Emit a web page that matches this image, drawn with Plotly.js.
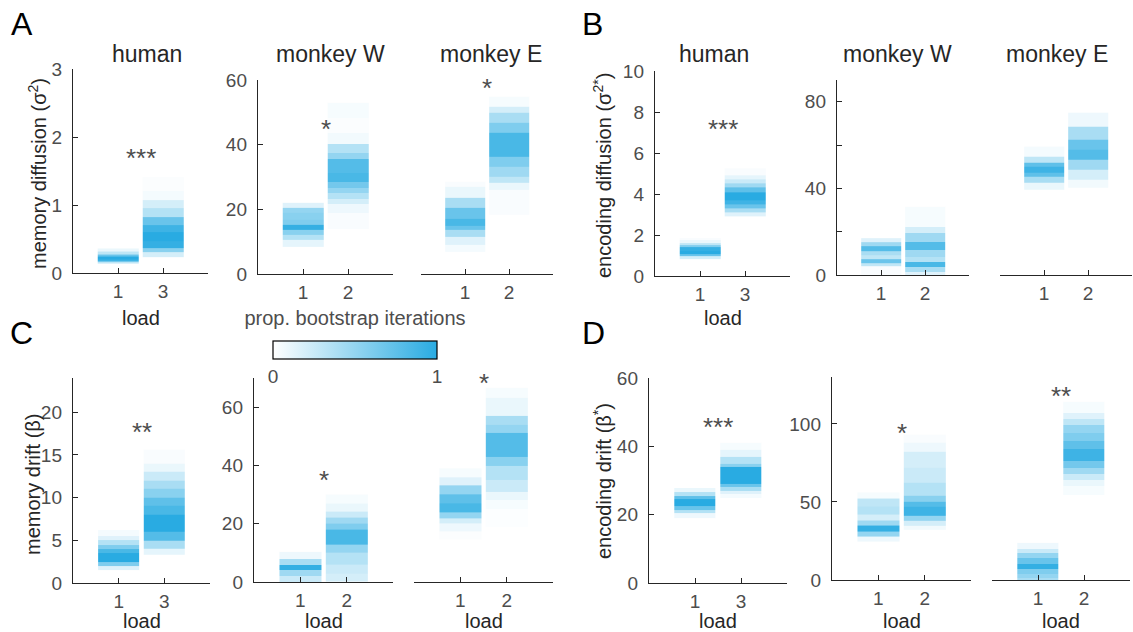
<!DOCTYPE html>
<html>
<head>
<meta charset="utf-8">
<script src="https://cdn.plot.ly/plotly-3.0.1.min.js"></script>
<style>
  html, body { margin: 0; padding: 0; background: #ffffff; }
  #chart { width: 1133px; height: 632px; }
</style>
</head>
<body>
<div id="chart"></div>
<script>
// Bootstrap distributions: each column is a stack of bins (edges, ascending)
// with the proportion of bootstrap iterations falling in each bin.

// A: memory diffusion (sigma^2)
const memDiffHumanL1Edges = [0.14, 0.17, 0.20, 0.24, 0.27, 0.31, 0.36];
const memDiffHumanL1Prop  = [0.3, 0.9, 1.0, 0.7, 0.3, 0.1];
const memDiffHumanL3Edges = [0.24, 0.30, 0.36, 0.47, 0.60, 0.70, 0.82, 0.95, 1.07, 1.20, 1.41];
const memDiffHumanL3Prop  = [0.2, 0.55, 0.95, 1.0, 0.9, 0.7, 0.35, 0.2, 0.05, 0.02];
const memDiffWL1Edges = [8.4, 10.5, 12.1, 13.6, 15.2, 16.7, 18.8, 20.4, 22];
const memDiffWL1Prop  = [0.12, 0.35, 0.55, 0.95, 0.6, 0.55, 0.5, 0.15];
const memDiffWL2Edges = [13.9, 18.8, 21.6, 23.2, 25, 26.6, 28.5, 31.2, 35.6, 37.4, 40.2, 43.6, 48.2, 52.9];
const memDiffWL2Prop  = [0.03, 0.08, 0.2, 0.35, 0.5, 0.65, 0.85, 0.8, 0.5, 0.35, 0.06, 0.02, 0.04];
const memDiffEL1Edges = [6.8, 9, 11.4, 13.6, 15, 17, 20.4, 23.5, 27, 28.5];
const memDiffEL1Prop  = [0.05, 0.15, 0.4, 0.7, 0.85, 0.7, 0.4, 0.1, 0.03];
const memDiffEL2Edges = [18.2, 26, 28.1, 30, 33.1, 36.2, 43.6, 46.7, 49.8, 51.7, 54.8];
const memDiffEL2Prop  = [0.03, 0.1, 0.3, 0.45, 0.6, 0.85, 0.6, 0.4, 0.2, 0.04];

// B: encoding diffusion (sigma^2*)
const encDiffHumanL1Edges = [0.85, 0.95, 1.05, 1.2, 1.4, 1.5, 1.6, 1.75, 1.85];
const encDiffHumanL1Prop  = [0.2, 0.7, 1.0, 0.95, 0.6, 0.3, 0.1, 0.03];
const encDiffHumanL3Edges = [2.9, 3.1, 3.3, 3.5, 3.7, 4.1, 4.3, 4.5, 4.7, 4.9, 5.25];
const encDiffHumanL3Prop  = [0.15, 0.4, 0.7, 0.9, 1.0, 0.75, 0.45, 0.25, 0.12, 0.03];
const encDiffWL1Edges = [0, 4, 5.5, 7.5, 9, 11, 13.5, 15, 17];
const encDiffWL1Prop  = [0.03, 0.3, 0.7, 0.3, 0.4, 0.8, 0.45, 0.15];
const encDiffWL2Edges = [0, 1.4, 3.7, 6, 8.3, 11.6, 15.3, 19.4, 22.2, 31.4];
const encDiffWL2Prop  = [0.15, 0.4, 0.85, 0.35, 0.45, 0.8, 0.45, 0.2, 0.04];
const encDiffEL1Edges = [39.3, 42.5, 45.3, 47, 50, 51.8, 54.6, 59.2];
const encDiffEL1Prop  = [0.1, 0.4, 0.75, 0.9, 0.75, 0.3, 0.05];
const encDiffEL2Edges = [40.2, 43.9, 48.6, 53.2, 58, 62.4, 68.4, 74.9];
const encDiffEL2Prop  = [0.06, 0.2, 0.45, 0.8, 0.7, 0.4, 0.08];

// C: memory drift (beta)
const memDriftHumanL1Edges = [1.5, 2.0, 2.5, 3.5, 4.0, 4.5, 5.0, 5.5, 6.2];
const memDriftHumanL1Prop  = [0.15, 0.6, 1.0, 0.85, 0.6, 0.35, 0.15, 0.05];
const memDriftHumanL3Edges = [3.3, 4, 5, 6, 8, 9, 10, 11, 12, 13, 14, 15.6];
const memDriftHumanL3Prop  = [0.12, 0.4, 0.8, 1.0, 0.85, 0.75, 0.55, 0.4, 0.25, 0.1, 0.03];
const memDriftWL1Edges = [0, 2, 4, 6, 8, 10.3];
const memDriftWL1Prop  = [0.25, 0.45, 0.95, 0.4, 0.08];
const memDriftWL2Edges = [0, 3, 6, 10, 13, 18, 20, 22, 24, 27, 30];
const memDriftWL2Prop  = [0.2, 0.25, 0.35, 0.5, 0.85, 0.6, 0.45, 0.25, 0.1, 0.04];
const memDriftEL1Edges = [14.5, 17.5, 20, 22, 24, 27, 30, 33, 36, 39];
const memDriftEL1Prop  = [0.02, 0.08, 0.2, 0.5, 0.85, 0.75, 0.5, 0.15, 0.04];
const memDriftEL2Edges = [19, 25, 28, 31, 35, 40, 43, 51, 54, 57, 63, 66.6];
const memDriftEL2Prop  = [0.015, 0.04, 0.1, 0.25, 0.35, 0.55, 0.8, 0.5, 0.4, 0.1, 0.04];

// D: encoding drift (beta*)
const encDriftHumanL1Edges = [19, 20.5, 21.5, 22.5, 24.5, 25.5, 26.5, 27.8];
const encDriftHumanL1Prop  = [0.08, 0.35, 0.7, 1.0, 0.75, 0.35, 0.1];
const encDriftHumanL3Edges = [25, 26, 27, 28, 29, 34, 35, 37, 39, 41];
const encDriftHumanL3Prop  = [0.05, 0.15, 0.4, 0.7, 1.0, 0.55, 0.35, 0.12, 0.04];
const encDriftWL1Edges = [24.5, 28, 31, 35, 38, 42, 47, 52, 56];
const encDriftWL1Prop  = [0.08, 0.5, 0.95, 0.45, 0.2, 0.35, 0.3, 0.04];
const encDriftWL2Edges = [32, 35, 38, 41, 47, 50, 54, 62, 72, 82, 88, 93];
const encDriftWL2Prop  = [0.06, 0.2, 0.5, 0.9, 0.8, 0.55, 0.35, 0.25, 0.2, 0.08, 0.03];
const encDriftEL1Edges = [0, 1.5, 4, 7, 10, 14, 17, 20, 23.7];
const encDriftEL1Prop  = [0.4, 0.5, 0.6, 0.95, 0.7, 0.5, 0.25, 0.08];
const encDriftEL2Edges = [54.5, 60, 64, 68, 72, 76, 84, 89, 94, 99, 103, 107, 114];
const encDriftEL2Prop  = [0.04, 0.1, 0.25, 0.45, 0.65, 0.9, 0.75, 0.6, 0.5, 0.3, 0.15, 0.04];

// Tick labels and text
const humanLoads  = ['1', '3'];
const monkeyLoads = ['1', '2'];
const subjects = ['human', 'monkey W', 'monkey E'];
const sigLabels = { A: ['***', '*', '*'], B: ['***', '', ''], C: ['**', '*', '*'], D: ['***', '*', '**'] };
const sigHeights = { A: [1.76, 46.4, 59], B: [7.4, null, null], C: [18.3, 36.7, 70], D: [47.1, 97.3, 121] };

// ---------------------------------------------------------------------------
const W = 1133, H = 632;
const BLUE = '#29abe2';
const scale = [[0, '#ffffff'], [1, BLUE]];
const TICK = '#4d4d4d', LINE = '#262626';
const FONT = 'Liberation Sans, Arial, Helvetica, sans-serif';

// axes boxes in pixels: [left, right, top, bottom]; dt = labelled tick step, mt = minor tick step
const panels = [
  { id: 'A', s: 0, box: [73, 208, 69, 273],  yr: [0, 3],   dt: 1,  mt: 0,  l1: [memDiffHumanL1Edges, memDiffHumanL1Prop], l2: [memDiffHumanL3Edges, memDiffHumanL3Prop] },
  { id: 'A', s: 1, box: [258, 393, 80, 274], yr: [0, 60],  dt: 20, mt: 0,  l1: [memDiffWL1Edges, memDiffWL1Prop], l2: [memDiffWL2Edges, memDiffWL2Prop] },
  { id: 'A', s: 2, box: [421, 553, 80, 274], yr: [0, 60],  dt: 0,  mt: 0,  l1: [memDiffEL1Edges, memDiffEL1Prop], l2: [memDiffEL2Edges, memDiffEL2Prop] },
  { id: 'B', s: 0, box: [655, 790, 71, 276], yr: [0, 10],  dt: 2,  mt: 0,  l1: [encDiffHumanL1Edges, encDiffHumanL1Prop], l2: [encDiffHumanL3Edges, encDiffHumanL3Prop] },
  { id: 'B', s: 1, box: [837, 969, 80, 275], yr: [0, 90],  dt: 40, mt: 20, l1: [encDiffWL1Edges, encDiffWL1Prop], l2: [encDiffWL2Edges, encDiffWL2Prop] },
  { id: 'B', s: 2, box: [1000, 1132, 80, 275], yr: [0, 90], dt: 0, mt: 0,  l1: [encDiffEL1Edges, encDiffEL1Prop], l2: [encDiffEL2Edges, encDiffEL2Prop] },
  { id: 'C', s: 0, box: [73, 210, 378, 583], yr: [0, 24],  dt: 5,  mt: 0,  l1: [memDriftHumanL1Edges, memDriftHumanL1Prop], l2: [memDriftHumanL3Edges, memDriftHumanL3Prop] },
  { id: 'C', s: 1, box: [254, 393, 378, 582], yr: [0, 70], dt: 20, mt: 0,  l1: [memDriftWL1Edges, memDriftWL1Prop], l2: [memDriftWL2Edges, memDriftWL2Prop] },
  { id: 'C', s: 2, box: [414, 553, 378, 582], yr: [0, 70], dt: 0,  mt: 0,  l1: [memDriftEL1Edges, memDriftEL1Prop], l2: [memDriftEL2Edges, memDriftEL2Prop] },
  { id: 'D', s: 0, box: [649, 787, 378, 583], yr: [0, 60], dt: 20, mt: 0,  l1: [encDriftHumanL1Edges, encDriftHumanL1Prop], l2: [encDriftHumanL3Edges, encDriftHumanL3Prop] },
  { id: 'D', s: 1, box: [832, 971, 377, 580], yr: [0, 130], dt: 50, mt: 0, l1: [encDriftWL1Edges, encDriftWL1Prop], l2: [encDriftWL2Edges, encDriftWL2Prop] },
  { id: 'D', s: 2, box: [992, 1130, 377, 580], yr: [0, 130], dt: 0, mt: 0, l1: [encDriftEL1Edges, encDriftEL1Prop], l2: [encDriftEL2Edges, encDriftEL2Prop] }
];

const traces = [];
const layout = {
  width: W, height: H,
  margin: { l: 0, r: 0, t: 0, b: 0 },
  paper_bgcolor: '#ffffff', plot_bgcolor: 'rgba(0,0,0,0)',
  showlegend: false,
  font: { family: FONT, color: TICK },
  annotations: []
};

function column(xc, edges, prop, xa, ya) {
  return {
    type: 'heatmap',
    x: [xc - 0.45, xc + 0.45],
    y: edges,
    z: prop.map(p => [p]),
    zmin: 0, zmax: 1,
    colorscale: scale,
    showscale: false,
    hoverinfo: 'skip',
    xaxis: xa, yaxis: ya
  };
}

panels.forEach((p, i) => {
  const n = i + 1;
  const xa = 'x' + (n === 1 ? '' : n), ya = 'y' + (n === 1 ? '' : n);
  const xk = 'xaxis' + (n === 1 ? '' : n), yk = 'yaxis' + (n === 1 ? '' : n);
  const [l, r, t, b] = p.box;

  traces.push(column(1, p.l1[0], p.l1[1], xa, ya));
  traces.push(column(2, p.l2[0], p.l2[1], xa, ya));

  layout[xk] = {
    domain: [l / W, r / W], anchor: ya, range: [0, 3],
    tickmode: 'array', tickvals: [1, 2], ticktext: p.s === 0 ? humanLoads : monkeyLoads,
    ticks: 'inside', ticklen: 5, tickwidth: 1, tickcolor: LINE,
    showline: true, linecolor: LINE, linewidth: 1.2,
    showgrid: false, zeroline: false, fixedrange: true,
    tickfont: { size: 19, color: TICK, family: FONT }, ticklabelstandoff: 1
  };
  if (p.dt) {
    layout[yk] = {
      domain: [1 - b / H, 1 - t / H], anchor: xa, range: p.yr,
      tickmode: 'linear', tick0: 0, dtick: p.dt,
      ticks: 'inside', ticklen: 5, tickwidth: 1, tickcolor: LINE,
      showline: true, linecolor: LINE, linewidth: 1.2,
      showgrid: false, zeroline: false, fixedrange: true,
      tickfont: { size: 19, color: TICK, family: FONT }, ticklabelstandoff: 6
    };
    if (p.mt) {
      layout[yk].minor = { tickmode: 'linear', tick0: 0, dtick: p.mt, ticks: 'inside', ticklen: 5, tickwidth: 1, tickcolor: LINE, showgrid: false };
    }
  } else {
    layout[yk] = { domain: [1 - b / H, 1 - t / H], anchor: xa, range: p.yr, visible: false, fixedrange: true };
  }

  // significance stars between the two loads
  const star = sigLabels[p.id][p.s];
  if (star) {
    layout.annotations.push({
      xref: xa, yref: ya, x: 1.5, y: sigHeights[p.id][p.s],
      text: star, showarrow: false, yanchor: 'middle', yshift: -5,
      font: { size: 26, color: '#4d4d4d', family: FONT }
    });
  }

  // x-axis title: every panel of the lower row, human panels of the upper row
  const lower = t > 300;
  if (lower || p.s === 0) {
    layout.annotations.push({
      xref: 'paper', yref: 'paper', x: ((l + r) / 2) / W, y: 1 - (lower ? 621 : 318) / H,
      text: 'load', showarrow: false, xanchor: 'center', yanchor: 'middle',
      font: { size: 20, color: LINE, family: FONT }
    });
  }
});

// Subject titles over the upper row
const titleCenters = [147, 330, 491, 714, 897, 1057];
titleCenters.forEach((cx, k) => {
  layout.annotations.push({
    xref: 'paper', yref: 'paper', x: cx / W, y: 1 - 54 / H,
    text: subjects[k % 3], showarrow: false, xanchor: 'center', yanchor: 'middle',
    font: { size: 23, color: LINE, family: FONT }
  });
});

// Panel letters
[['A', 22, 24], ['B', 592, 24], ['C', 22, 333], ['D', 593, 333]].forEach(([t, x, y]) => {
  layout.annotations.push({
    xref: 'paper', yref: 'paper', x: x / W, y: 1 - y / H,
    text: t, showarrow: false, xanchor: 'center', yanchor: 'middle',
    font: { size: 32, color: '#000000', family: FONT }
  });
});

// Y-axis titles
[['memory diffusion (σ<sup>2</sup>)', 37, 174],
 ['encoding diffusion (σ<sup>2*</sup>)', 603, 176],
 ['memory drift (β)', 33, 484],
 ['encoding drift (β<sup>*</sup>)', 603, 481]].forEach(([t, x, y]) => {
  layout.annotations.push({
    xref: 'paper', yref: 'paper', x: x / W, y: 1 - y / H,
    text: t, showarrow: false, textangle: -90, xanchor: 'center', yanchor: 'middle',
    font: { size: 20, color: LINE, family: FONT }
  });
});

// Shared colour bar
traces[0].showscale = true;
traces[0].colorbar = {
  orientation: 'h',
  x: 355 / W, xanchor: 'center',
  y: 1 - 319 / H, yanchor: 'top',
  len: 164, lenmode: 'pixels',
  thickness: 18, thicknessmode: 'pixels',
  xpad: 0, ypad: 0,
  outlinewidth: 1.2, outlinecolor: '#000000',
  tickmode: 'array', tickvals: [0, 1], ticktext: ['0', '1'], ticks: '',
  tickfont: { size: 19, color: TICK, family: FONT },
  title: { text: 'prop. bootstrap iterations', side: 'top', font: { size: 20, color: TICK, family: FONT } }
};

Plotly.newPlot('chart', traces, layout, { displayModeBar: false, staticPlot: true });
</script>
</body>
</html>
